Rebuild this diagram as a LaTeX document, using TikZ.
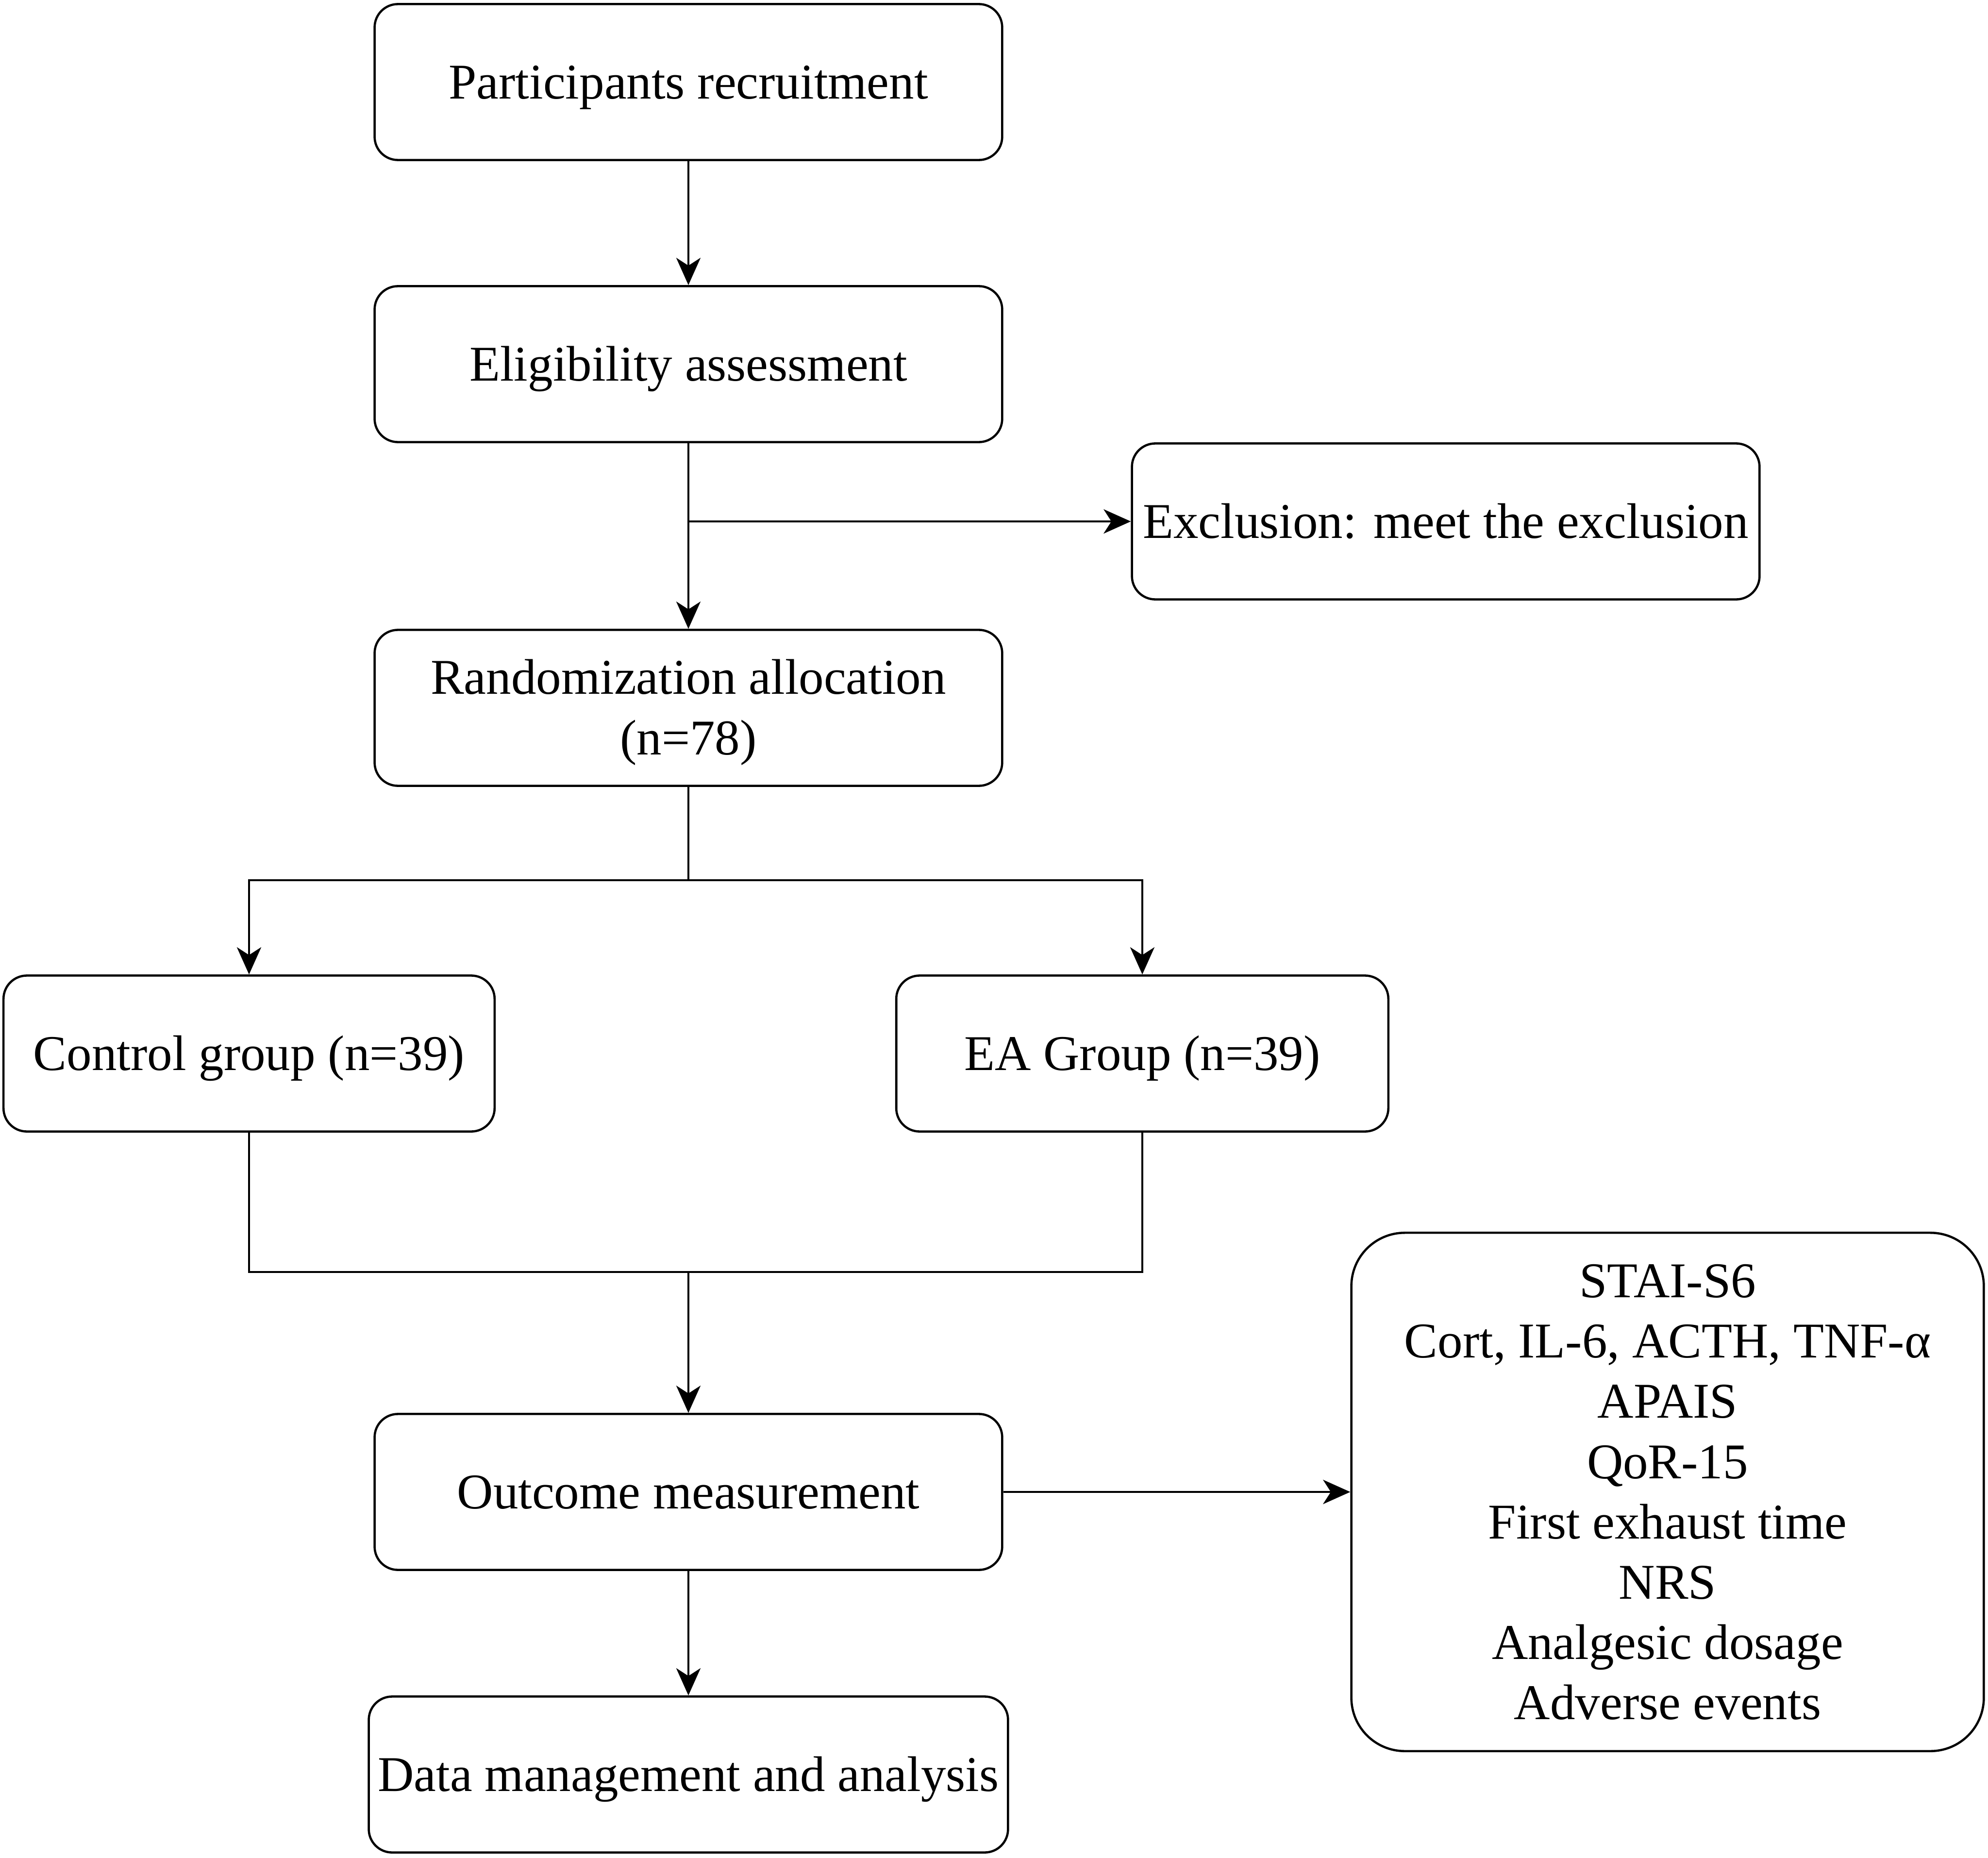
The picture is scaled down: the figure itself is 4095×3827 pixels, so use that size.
\documentclass[tikz,border=0pt]{standalone}
\usepackage{fontspec}
\setmainfont{Liberation Serif}
\usetikzlibrary{arrows.meta}
\newcommand{\fs}{\fontsize{29.3pt}{35.28pt}\selectfont}
\newcommand{\ls}{\rule[-7.97pt]{0pt}{35.28pt}}
\begin{document}
\begin{tikzpicture}[x=0.01cm,y=-0.01cm,
  box/.style={draw, line width=1.3pt, rounded corners=0.48cm, inner sep=0pt,
    minimum width=12.92cm, minimum height=3.21cm, align=center, font=\fs},
  big/.style={box, rounded corners=1.1cm, minimum width=13.02cm, minimum height=10.67cm},
  conn/.style={line width=1.3pt},
  arr/.style={conn, -{Stealth[length=0.56cm,width=0.5cm,inset=0.16cm]}}]
\useasboundingbox (0,0) rectangle (4095,3827);
\node[box] (rec) at (1418,169) {\ls Participants recruitment};
\node[box] (eli) at (1418,750) {\ls Eligibility assessment};
\node[box] (exc) at (2978,1074) {\ls Exclusion: meet the exclusion};
\node[box] (ran) at (1418,1458) {\ls Randomization allocation\\\ls (n=78)};
\node[box, minimum width=10.11cm] (ctl) at (513,2170) {\ls Control group (n=39)};
\node[box, minimum width=10.13cm] (ea) at (2353,2170) {\ls EA Group (n=39)};
\node[box] (out) at (1418,3073) {\ls Outcome measurement};
\node[box, minimum width=13.16cm] (dat) at (1418,3655) {\ls Data management and analysis};
\node[big] (res) at (3435,3073) {\ls STAI-S6\\\ls Cort, IL-6, ACTH, TNF-α\\\ls APAIS\\\ls QoR-15\\\ls First exhaust time\\\ls NRS\\\ls Analgesic dosage\\\ls Adverse events};
\coordinate (split) at (1418,1813);
\coordinate (join) at (1418,2620);
\draw[arr] (rec) -- (eli);
\draw[arr] (eli) -- (ran);
\draw[arr] (eli.south |- exc.west) -- (exc.west);
\draw[conn] (ran) -- (split);
\draw[arr] (split) -| (ctl.north);
\draw[arr] (split) -| (ea.north);
\draw[conn] (ctl.south) |- (join);
\draw[conn] (ea.south) |- (join);
\draw[arr] (join) -- (out.north);
\draw[arr] (out) -- (res);
\draw[arr] (out) -- (dat);
\end{tikzpicture}
\end{document}
